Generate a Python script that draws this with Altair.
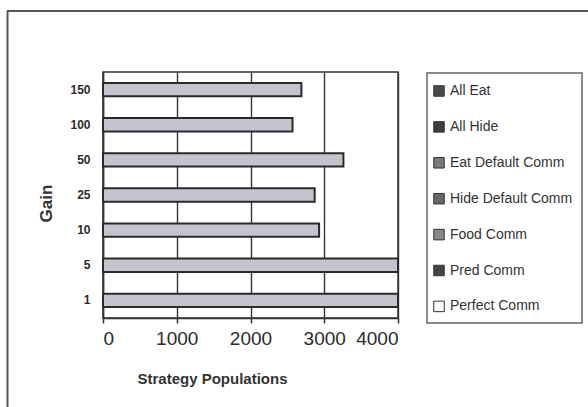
import altair as alt
import pandas as pd

# Gain levels (top to bottom) and the strategy populations reached for each
gains = ["150", "100", "50", "25", "10", "5", "1"]
perfect_comm = [2690, 2570, 3260, 2870, 2930, 4000, 4000]

strategies = ["All Eat", "All Hide", "Eat Default Comm", "Hide Default Comm",
              "Food Comm", "Pred Comm", "Perfect Comm"]
strategy_colors = ["#4a4a4a", "#3d3d3d", "#7a7a7a", "#686868",
                   "#8a8a8a", "#444444", "#ffffff"]

x_ticks = [0, 1000, 2000, 3000, 4000]

bars_df = pd.DataFrame({"Gain": gains, "Population": perfect_comm})
legend_df = pd.DataFrame({"Strategy": strategies})

FONT = "Liberation Sans"

bars = alt.Chart(bars_df).mark_bar(
    fill="#c4c5cc", stroke="#2a2a2a", strokeWidth=2
).encode(
    x=alt.X("Population:Q",
            scale=alt.Scale(domain=[0, 4000], nice=False, zero=True),
            axis=alt.Axis(values=x_ticks, format="d",
                          title="Strategy Populations",
                          titleFont=FONT, titleFontSize=15, titleFontWeight="bold",
                          titleColor="#333333", titleX=109, titleY=65,
                          titleAlign="center", titleBaseline="alphabetic",
                          labelFont=FONT, labelFontSize=19, labelColor="#2b2b2b",
                          labelFontWeight="normal", labelPadding=6,
                          tickSize=5, tickColor="#333333", tickWidth=1.5,
                          grid=True, gridColor="#333333", gridWidth=1.4,
                          domainColor="#333333", domainWidth=1.5)),
    y=alt.Y("Gain:N", sort=gains,
            scale=alt.Scale(paddingInner=0.62, paddingOuter=0.31),
            axis=alt.Axis(title="Gain", titleFont=FONT, titleFontSize=17,
                          titleFontWeight="bold", titleColor="#333333",
                          titleAngle=270, titleX=-57, titleY=131,
                          titleAlign="center", titleBaseline="middle",
                          labelFont=FONT, labelFontSize=12, labelFontWeight="bold",
                          labelColor="#2b2b2b", labelPadding=13, ticks=False,
                          domainColor="#333333", domainWidth=1.5)),
)

# Hidden squares that carry the strategy legend
legend_marks = alt.Chart(legend_df).mark_square(clip=True, opacity=1).encode(
    x=alt.value(-500),
    y=alt.value(-500),
    color=alt.Color("Strategy:N",
                    scale=alt.Scale(domain=strategies, range=strategy_colors),
                    legend=alt.Legend(orient="none", legendX=329, legendY=12,
                                      title=None, padding=0,
                                      symbolType="square", symbolSize=110,
                                      symbolOpacity=1,
                                      symbolStrokeColor="#333333",
                                      symbolStrokeWidth=1,
                                      labelFont=FONT, labelFontSize=14,
                                      labelColor="#333333", labelOffset=4,
                                      rowPadding=19.9)),
)

# Legend frame
legend_box = alt.Chart(legend_df.head(1)).mark_rect(
    fill=None, stroke="#666666", strokeWidth=1.5
).encode(
    x=alt.value(324), x2=alt.value(479), y=alt.value(1), y2=alt.value(251)
)

# Outer chart frame (top and left edges)
frame_top = alt.Chart(legend_df.head(1)).mark_rule(
    color="#555555", strokeWidth=2
).encode(x=alt.value(-96), x2=alt.value(490), y=alt.value(-61))

frame_left = alt.Chart(legend_df.head(1)).mark_rule(
    color="#555555", strokeWidth=2
).encode(x=alt.value(-95.5), y=alt.value(-61), y2=alt.value(340))

chart = alt.layer(bars, legend_marks, legend_box, frame_top, frame_left).properties(
    width=295,
    height=246,
    padding={"left": 103, "top": 72, "right": 190, "bottom": 89},
    autosize=alt.AutoSizeParams(type="none"),
    background="white",
).configure_view(
    stroke="#333333", strokeWidth=1.5
)

chart.save("out.html", embed_options={"renderer": "svg", "actions": False})
